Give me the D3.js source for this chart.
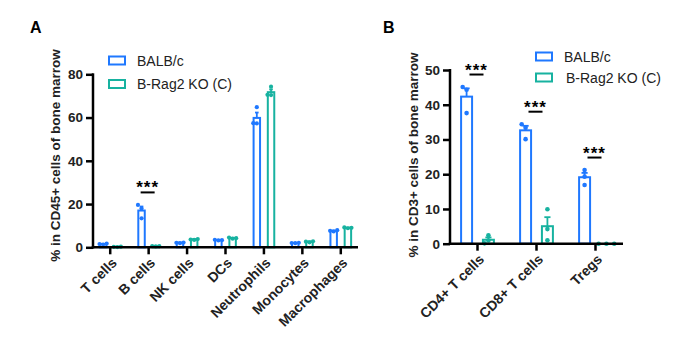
<!DOCTYPE html>
<html>
<head>
<meta charset="utf-8">
<script src="https://cdn.jsdelivr.net/npm/d3@7"></script>
<style>
  body { margin: 0; background: #fff; }
  svg { display: block; font-family: "Liberation Sans", Arial, sans-serif; }
</style>
</head>
<body>
<svg id="chart" width="693" height="339"></svg>
<script>
var width = 693;
var height = 339;

var blue = "#1f78ff";
var teal = "#17b2a0";

// panel A: % of CD45+ cells, three mice per group
var cellsA = ["T cells", "B cells", "NK cells", "DCs", "Neutrophils", "Monocytes", "Macrophages"];
var balbA = [
  [1.3, 1.5, 1.7],
  [13.4, 18.0, 19.6],
  [1.9, 2.1, 2.2],
  [3.2, 3.5, 3.3],
  [64.8, 57.3, 57.4],
  [1.9, 2.0, 2.1],
  [7.3, 7.6, 7.9]
];
var koA = [
  [0.1, 0.2, 0.3],
  [0.4, 0.6, 0.5],
  [3.4, 3.6, 3.8],
  [4.0, 4.5, 4.2],
  [74.3, 70.4, 70.5],
  [2.3, 2.6, 2.8],
  [8.8, 9.2, 9.0]
];
var ticksA = [0, 20, 40, 60, 80];
var sigA = ["B cells"];

// panel B: % of CD3+ cells
var cellsB = ["CD4+ T cells", "CD8+ T cells", "Tregs"];
var balbB = [
  [37.6, 44.3, 45.1],
  [30.1, 33.4, 34.4],
  [16.9, 19.3, 21.2]
];
var koB = [
  [2.4, 0.9, 0.1],
  [9.9, 4.2, 1.0],
  [0, 0, 0]
];
var ticksB = [0, 10, 20, 30, 40, 50];
var sigB = ["CD4+ T cells", "CD8+ T cells", "Tregs"];

var seriesNames = ["BALB/c", "B-Rag2 KO (C)"];

var svg = d3.select("#chart");

function mean(v) { return d3.mean(v); }
function sem(v) { return d3.deviation(v) / Math.sqrt(v.length); }

function drawPanel(cfg) {
  var g = svg.append("g");

  var x = d3.scaleBand()
    .domain(cfg.cats)
    .range([cfg.x0 - 2, cfg.x1 + 2]);
  var step = x.step();

  var y = d3.scaleLinear()
    .domain([0, cfg.ticks[cfg.ticks.length - 1]])
    .range([cfg.y0, cfg.y1]);

  var barW = step * 0.22 - 2;
  var groups = [
    { name: seriesNames[0], color: blue, off: -step * 0.185, vals: cfg.balb },
    { name: seriesNames[1], color: teal, off: step * 0.185, vals: cfg.ko }
  ];

  groups.forEach(function (s) {
    var sg = g.append("g");
    cfg.cats.forEach(function (c, i) {
      var v = s.vals[i];
      var cx = x(c) + step / 2 + s.off;
      var m = mean(v);
      var e = sem(v);

      sg.append("rect")
        .attr("x", cx - barW / 2)
        .attr("y", y(m))
        .attr("width", barW)
        .attr("height", Math.max(0, y(0) - y(m)))
        .attr("fill", "#fff")
        .attr("stroke", s.color)
        .attr("stroke-width", 2);

      if (e > 0) {
        sg.append("line")
          .attr("x1", cx).attr("x2", cx)
          .attr("y1", y(m)).attr("y2", y(m + e))
          .attr("stroke", s.color).attr("stroke-width", 1.8);
        sg.append("line")
          .attr("x1", cx - barW * 0.28).attr("x2", cx + barW * 0.28)
          .attr("y1", y(m + e)).attr("y2", y(m + e))
          .attr("stroke", s.color).attr("stroke-width", 1.8);
      }

      // simple swarm so overlapping dots spread sideways
      var placed = [];
      var sp = cfg.r * 1.7;
      v.forEach(function (d) {
        var py = y(d);
        var ks = [0, -1, 1, -2, 2];
        for (var k = 0; k < ks.length; k++) {
          var px = cx + ks[k] * sp;
          var hit = placed.some(function (p) {
            return Math.hypot(p[0] - px, p[1] - py) < sp;
          });
          if (!hit) { placed.push([px, py]); break; }
        }
      });
      sg.selectAll(null).data(placed).enter().append("circle")
        .attr("cx", function (p) { return p[0]; })
        .attr("cy", function (p) { return p[1]; })
        .attr("r", cfg.r)
        .attr("fill", s.color);
    });
  });

  // y axis
  var yAxis = g.append("g")
    .attr("transform", "translate(" + cfg.x0 + ",0)")
    .call(d3.axisLeft(y).tickValues(cfg.ticks).tickSize(7).tickSizeOuter(0).tickPadding(3));
  yAxis.select(".domain").remove();
  yAxis.selectAll(".tick line").attr("stroke", "#000").attr("stroke-width", 2.5);
  yAxis.selectAll(".tick text")
    .attr("fill", "#222")
    .style("font-size", "13.5px")
    .style("font-weight", "bold")
    .style("font-family", "'Liberation Sans', Arial, sans-serif");
  g.append("line")
    .attr("x1", cfg.x0).attr("x2", cfg.x0)
    .attr("y1", y.range()[1] - 1).attr("y2", cfg.y0 + 1.25)
    .attr("stroke", "#000").attr("stroke-width", 2.5);

  // x axis
  var xAxis = g.append("g")
    .attr("transform", "translate(0," + cfg.y0 + ")")
    .call(d3.axisBottom(x).tickSize(7).tickSizeOuter(0).tickFormat(""));
  xAxis.select(".domain").remove();
  xAxis.selectAll(".tick line").attr("stroke", "#000").attr("stroke-width", 2.5);
  g.append("line")
    .attr("x1", cfg.x0 - 1.25).attr("x2", cfg.x1)
    .attr("y1", cfg.y0).attr("y2", cfg.y0)
    .attr("stroke", "#000").attr("stroke-width", 2.5);

  g.selectAll(".catlabel").data(cfg.cats).enter().append("text")
    .attr("class", "catlabel")
    .attr("transform", function (c) {
      return "translate(" + (x(c) + step / 2 + 4) + "," + (cfg.y0 + 13) + ") rotate(-45)";
    })
    .attr("text-anchor", "end")
    .attr("dy", "0.35em")
    .attr("fill", "#222")
    .style("font-size", "14px")
    .style("font-weight", "bold")
    .text(function (c) { return c; });

  // y title
  g.append("text")
    .attr("transform", "translate(" + cfg.titleX + "," + cfg.titleY + ") rotate(-90)")
    .attr("text-anchor", "middle")
    .attr("fill", "#222")
    .style("font-size", "13.5px")
    .style("font-weight", "bold")
    .text(cfg.title);

  // panel letter
  g.append("text")
    .attr("x", cfg.letterX).attr("y", 33)
    .attr("fill", "#000")
    .style("font-size", "16px")
    .style("font-weight", "bold")
    .text(cfg.letter);

  // significance marks
  cfg.sig.forEach(function (c) {
    var i = cfg.cats.indexOf(c);
    var top = d3.max(cfg.balb[i].concat(cfg.ko[i]));
    var ly = y(top) - 12.5;
    var cx = x(c) + step / 2 - 1;
    g.append("line")
      .attr("x1", cx - 7).attr("x2", cx + 7)
      .attr("y1", ly).attr("y2", ly)
      .attr("stroke", "#000").attr("stroke-width", 2);
    g.append("text")
      .attr("x", cx).attr("y", ly + 1)
      .attr("text-anchor", "middle")
      .attr("fill", "#000")
      .style("font-size", "17px")
      .style("font-weight", "bold")
      .style("letter-spacing", "1px")
      .text("***");
  });

  // legend
  var lg = g.append("g");
  groups.forEach(function (s, i) {
    var ly = cfg.legY + i * cfg.legGap;
    lg.append("rect")
      .attr("x", cfg.legX).attr("y", ly - 4)
      .attr("width", 16).attr("height", 8)
      .attr("fill", "#fff")
      .attr("stroke", s.color).attr("stroke-width", 2);
    lg.append("text")
      .attr("x", cfg.legX + 28 + (i === 1 && cfg.letter === "B" ? 2 : 0))
      .attr("y", ly + 5)
      .attr("fill", "#222")
      .style("font-size", "14px")
      .text(s.name);
  });
}

drawPanel({
  letter: "A", letterX: 30,
  cats: cellsA, balb: balbA, ko: koA, ticks: ticksA, sig: sigA,
  x0: 93, x1: 358, y0: 247.3, y1: 74.3, r: 2.1,
  title: "% in CD45+ cells of bone marrow", titleX: 60, titleY: 155.5,
  legX: 109, legY: 60.5, legGap: 23.5
});

drawPanel({
  letter: "B", letterX: 383,
  cats: cellsB, balb: balbB, ko: koB, ticks: ticksB, sig: sigB,
  x0: 450, x1: 623, y0: 243.7, y1: 70, r: 2.3,
  title: "% in CD3+ cells of bone marrow", titleX: 418, titleY: 155,
  legX: 536, legY: 56.5, legGap: 21
});
</script>
</body>
</html>
